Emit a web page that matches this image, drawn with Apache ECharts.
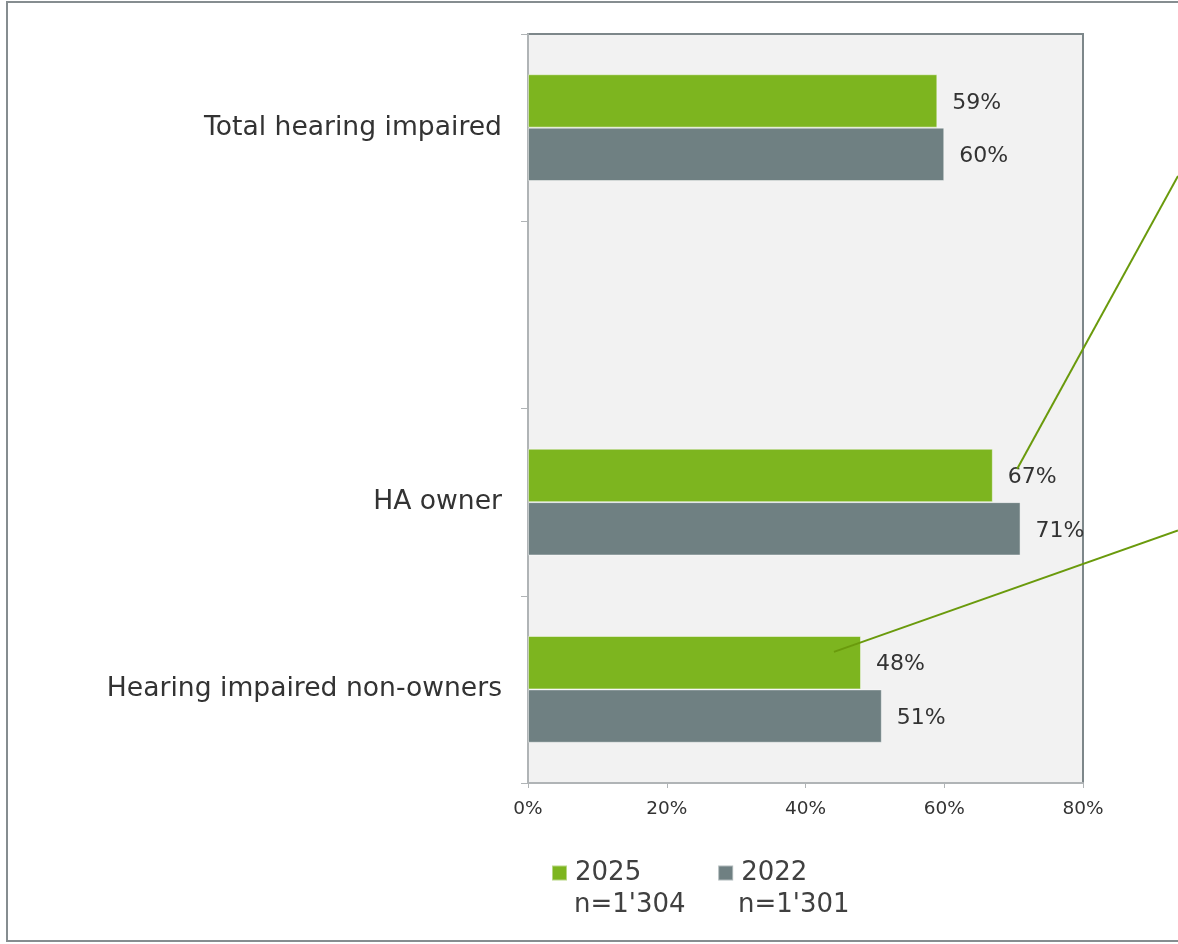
<!DOCTYPE html>
<html><head><meta charset="utf-8">
<script src="https://cdn.jsdelivr.net/npm/echarts@6/dist/echarts.min.js"></script>
<style>html,body{margin:0;padding:0;background:#fff}#c{width:1178px;height:944px}</style>
</head><body><div id="c"></div>
<script>
const categories = ['Total hearing impaired', '', 'HA owner', 'Hearing impaired non-owners'];
const values2025 = [59, null, 67, 48];
const values2022 = [60, null, 71, 51];
const seriesNames = ['2025', '2022'];
const sampleSizes = ["n=1'304", "n=1'301"];
const xTicks = [0, 20, 40, 60, 80];

const FONT = 'DejaVu Sans, Verdana, sans-serif';
const chart = echarts.init(document.getElementById('c'));
chart.setOption({
  animation: false,
  backgroundColor: '#fff',
  grid: {left: 528, top: 34, width: 555, height: 749, show: true, backgroundColor: '#f2f2f2', borderColor: '#7d878a', borderWidth: 2},
  xAxis: {
    type: 'value', min: xTicks[0], max: xTicks[xTicks.length-1], interval: 20,
    splitLine: {show: false},
    axisLine: {show: true, lineStyle: {color: '#b0b4b6', width: 2}},
    axisTick: {show: true, length: 5, lineStyle: {color: '#b0b4b6'}},
    axisLabel: {formatter: '{value}%', color: '#333', fontFamily: FONT, fontSize: 18.5, margin: 17}
  },
  yAxis: {
    type: 'category', data: categories, inverse: true,
    axisLine: {show: true, lineStyle: {color: '#b0b4b6', width: 2}},
    axisTick: {show: true, length: 7, lineStyle: {color: '#b0b4b6'}},
    axisLabel: {color: '#333', fontFamily: FONT, fontSize: 26.6, margin: 26}
  },
  legend: {
    left: 551, top: 858, padding: 0, itemWidth: 15, itemHeight: 15, itemGap: 76, icon: 'rect',
    textStyle: {color: '#404040', fontFamily: FONT, fontSize: 26, lineHeight: 30, padding: [0, 0, 0, 3]},
    data: seriesNames
  },
  series: [
    {name: seriesNames[0], type: 'bar', data: values2025, barGap: '0%', barCategoryGap: '43%',
     itemStyle: {color: '#7db51f', borderColor: 'rgba(255,255,255,0.45)', borderWidth: 1},
     label: {show: true, position: 'right', distance: 15, offset: [0, 2], formatter: '{c}%', color: '#333', fontFamily: FONT, fontSize: 22}},
    {name: seriesNames[1], type: 'bar', data: values2022, barGap: '0%', barCategoryGap: '43%',
     itemStyle: {color: '#6f8082', borderColor: 'rgba(255,255,255,0.45)', borderWidth: 1},
     label: {show: true, position: 'right', distance: 15, offset: [0, 2], formatter: '{c}%', color: '#333', fontFamily: FONT, fontSize: 22}}
  ]
});

// annotation lines (callouts) anchored via axis scales
const W = chart.getWidth();
const bandPx = chart.convertToPixel({yAxisIndex: 0}, categories[3]) - chart.convertToPixel({yAxisIndex: 0}, categories[2]);
const p1 = [chart.convertToPixel({xAxisIndex: 0}, 70.5), chart.convertToPixel({yAxisIndex: 0}, categories[2]) - bandPx * 0.177];
const p2 = [chart.convertToPixel({xAxisIndex: 0}, 44.1), chart.convertToPixel({yAxisIndex: 0}, categories[3]) - bandPx * 0.2];
const slope1 = (175 - 470) / (1178 - 1016);
const slope2 = (530 - 651) / (1178 - 835);
chart.setOption({
  graphic: [
    {type: 'rect', shape: {x: 7, y: 2, width: 1300, height: 939}, style: {fill: 'none', stroke: '#868d90', lineWidth: 2}, z: 100},
    {type: 'line', shape: {x1: p1[0], y1: p1[1], x2: W, y2: p1[1] + slope1 * (W - p1[0])}, style: {stroke: '#6a9a0c', lineWidth: 2}, z: 100},
    {type: 'line', shape: {x1: p2[0], y1: p2[1], x2: W, y2: p2[1] + slope2 * (W - p2[0])}, style: {stroke: '#6a9a0c', lineWidth: 2}, z: 100},
    {type: 'text', x: 574, y: 905, style: {text: sampleSizes[0], fill: '#404040', font: '26px ' + FONT, textVerticalAlign: 'middle'}},
    {type: 'text', x: 738, y: 905, style: {text: sampleSizes[1], fill: '#404040', font: '26px ' + FONT, textVerticalAlign: 'middle'}}
  ]
});
</script></body></html>
